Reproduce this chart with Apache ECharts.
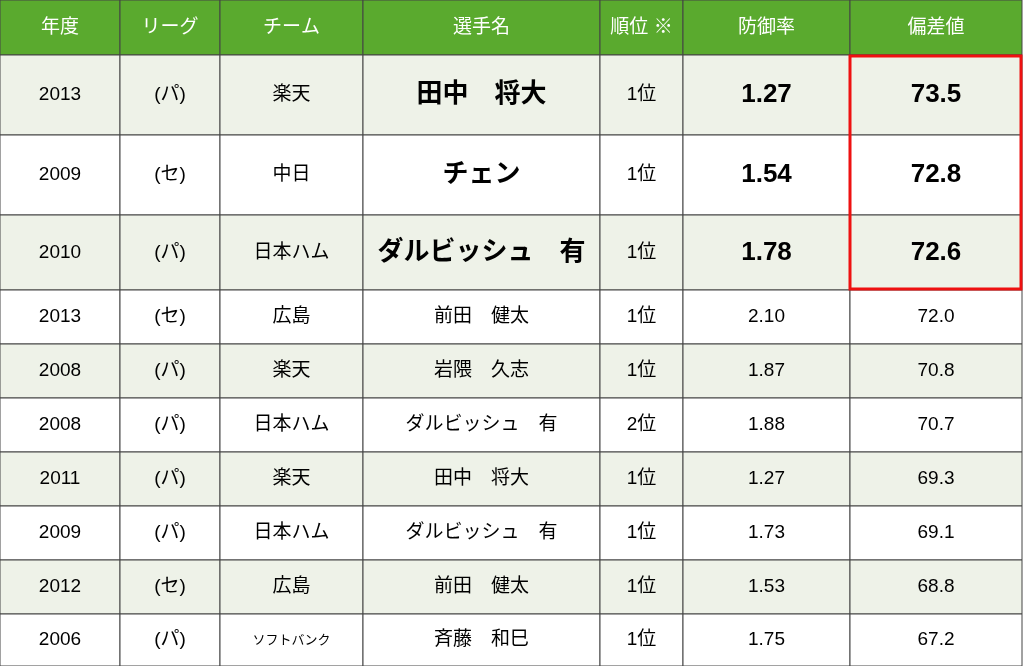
<!DOCTYPE html>
<html><head><meta charset="utf-8">
<script src="https://cdn.jsdelivr.net/npm/echarts@6/dist/echarts.min.js"></script>
<style>html,body{margin:0;padding:0;background:#fff}#c{width:1024px;height:666px}</style>
</head><body><div id="c"></div>
<script>
// 表のデータ
var headers = ['年度','リーグ','チーム','選手名','順位 ※','防御率','偏差値'];
var years = ['2013','2009','2010','2013','2008','2008','2011','2009','2012','2006'];
var leagues = ['(パ)','(セ)','(パ)','(セ)','(パ)','(パ)','(パ)','(パ)','(セ)','(パ)'];
var teams = ['楽天','中日','日本ハム','広島','楽天','日本ハム','楽天','日本ハム','広島','ソフトバンク'];
var players = ['田中　将大','チェン','ダルビッシュ　有','前田　健太','岩隈　久志','ダルビッシュ　有','田中　将大','ダルビッシュ　有','前田　健太','斉藤　和巳'];
var ranks = ['1位','1位','1位','1位','1位','2位','1位','1位','1位','1位'];
var era = ['1.27','1.54','1.78','2.10','1.87','1.88','1.27','1.73','1.53','1.75'];
var scores = ['73.5','72.8','72.6','72.0','70.8','70.7','69.3','69.1','68.8','67.2'];

var colX = [0,120,220,363,600,683,850,1022];
var rowY = [0,55,135,215,290,344,398,452,506,560,614,666];
var font = '"Liberation Sans","Noto Sans CJK JP",sans-serif';

var g = [];
function cell(c, r, txt, fill, color, size, bold) {
  g.push({type:'rect', shape:{x:colX[c],y:rowY[r],width:colX[c+1]-colX[c],height:rowY[r+1]-rowY[r]},
    style:{fill:fill, stroke:'#444', lineWidth:1}});
  g.push({type:'text', x:(colX[c]+colX[c+1])/2, y:(rowY[r]+rowY[r+1])/2,
    style:{text:txt, fill:color, font:(bold?'bold ':'')+size+'px '+font, textAlign:'center', textVerticalAlign:'middle'}});
}
headers.forEach(function(h,c){ cell(c,0,h,'#5aaa2e','#fff',19,false); });
for (var i = 0; i < years.length; i++) {
  var fill = i % 2 === 0 ? '#eef2e8' : '#ffffff';
  var big = i < 3;
  var vals = [years[i],leagues[i],teams[i],players[i],ranks[i],era[i],scores[i]];
  vals.forEach(function(v,c){
    var size = 19, bold = false;
    if (big && (c === 3 || c >= 5)) { size = 26; bold = true; }
    if (c === 2 && v.length > 4) size = 13;
    cell(c, i+1, v, fill, '#000', size, bold);
  });
}
g.push({type:'rect', shape:{x:850,y:56,width:171,height:233}, style:{fill:'none',stroke:'#ee1111',lineWidth:3}});

var chart = echarts.init(document.getElementById('c'));
chart.setOption({graphic:{elements:g}});
</script></body></html>
